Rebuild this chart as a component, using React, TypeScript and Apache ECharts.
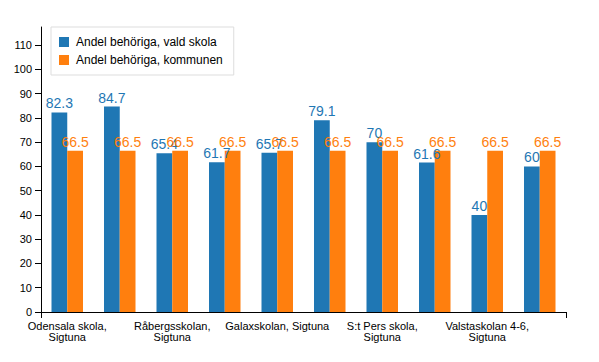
import React, { useEffect, useRef } from "react";
import * as echarts from "echarts";

const categories = [
  "Odensala skola, Sigtuna",
  "Ekillaskolan, Sigtuna",
  "Råbergsskolan, Sigtuna",
  "Tingvallaskolan, Sigtuna",
  "Galaxskolan, Sigtuna",
  "Vikingaskolan, Sigtuna",
  "S:t Pers skola, Sigtuna",
  "Norrbackaskolan, Sigtuna",
  "Valstaskolan 4-6, Sigtuna",
  "Sätunaskolan, Sigtuna",
];
const valdSkola = [82.3, 84.7, 65.4, 61.7, 65.7, 79.1, 70, 61.6, 40, 60];
const kommunen = [66.5, 66.5, 66.5, 66.5, 66.5, 66.5, 66.5, 66.5, 66.5, 66.5];
const seriesNames = ["Andel behöriga, vald skola", "Andel behöriga, kommunen"];

const FONT = "'Liberation Sans', Arial, Helvetica, sans-serif";

export default function App() {
  const ref = useRef<HTMLDivElement>(null);
  useEffect(() => {
    if (!ref.current) return;
    const chart = echarts.init(ref.current, undefined, { renderer: "svg" });
    chart.setOption({
      animation: false,
      textStyle: { fontFamily: FONT },
      grid: { left: 41, right: 33, top: 27, bottom: 50 },
      legend: {
        orient: "vertical",
        left: 51,
        top: 27,
        padding: [9, 11, 9, 8],
        itemGap: 6,
        itemWidth: 10,
        itemHeight: 10,
        icon: "rect",
        borderColor: "#dddddd",
        borderWidth: 1,
        textStyle: { fontSize: 12, color: "#000", fontFamily: FONT, padding: [0, 0, 0, 2] },
        data: seriesNames,
      },
      xAxis: [
        {
          type: "category",
          data: categories,
          axisLine: { lineStyle: { color: "#000" } },
          axisTick: { alignWithLabel: true, interval: 0, length: 6, lineStyle: { color: "#000" } },
          axisLabel: {
            interval: 1,
            fontSize: 11,
            color: "#000",
            fontFamily: FONT,
            lineHeight: 11,
            margin: 8,
            formatter: (v: string) => (v.length > 20 ? v.replace(", ", ",\n") : v),
          },
        },
        {
          type: "value",
          position: "bottom",
          min: 0,
          max: 1,
          interval: 1,
          axisLine: { show: false },
          axisTick: { show: true, length: 6, lineStyle: { color: "#000" } },
          axisLabel: { show: false },
          splitLine: { show: false },
        },
      ],
      yAxis: {
        type: "value",
        min: 0,
        max: 117.5,
        interval: 10,
        axisLine: { show: true, lineStyle: { color: "#000" } },
        axisTick: { show: true, length: 6, lineStyle: { color: "#000" } },
        axisLabel: { fontSize: 11, color: "#000", fontFamily: FONT, margin: 9, showMaxLabel: false },
        splitLine: { show: false },
      },
      series: [
        {
          name: seriesNames[0],
          type: "bar",
          data: valdSkola,
          barGap: "0%",
          barCategoryGap: "40%",
          itemStyle: { color: "#1f77b4" },
          label: { show: true, position: "top", distance: 2, fontSize: 14, color: "#1f77b4", fontFamily: FONT },
        },
        {
          name: seriesNames[1],
          type: "bar",
          data: kommunen,
          barGap: "0%",
          barCategoryGap: "40%",
          itemStyle: { color: "#ff7f0e" },
          label: { show: true, position: "top", distance: 2, fontSize: 14, color: "#ff7f0e", fontFamily: FONT },
        },
      ],
    });
    return () => chart.dispose();
  }, []);
  return <div ref={ref} style={{ width: 599, height: 362, position: "absolute", left: 0, top: 0 }} />;
}
